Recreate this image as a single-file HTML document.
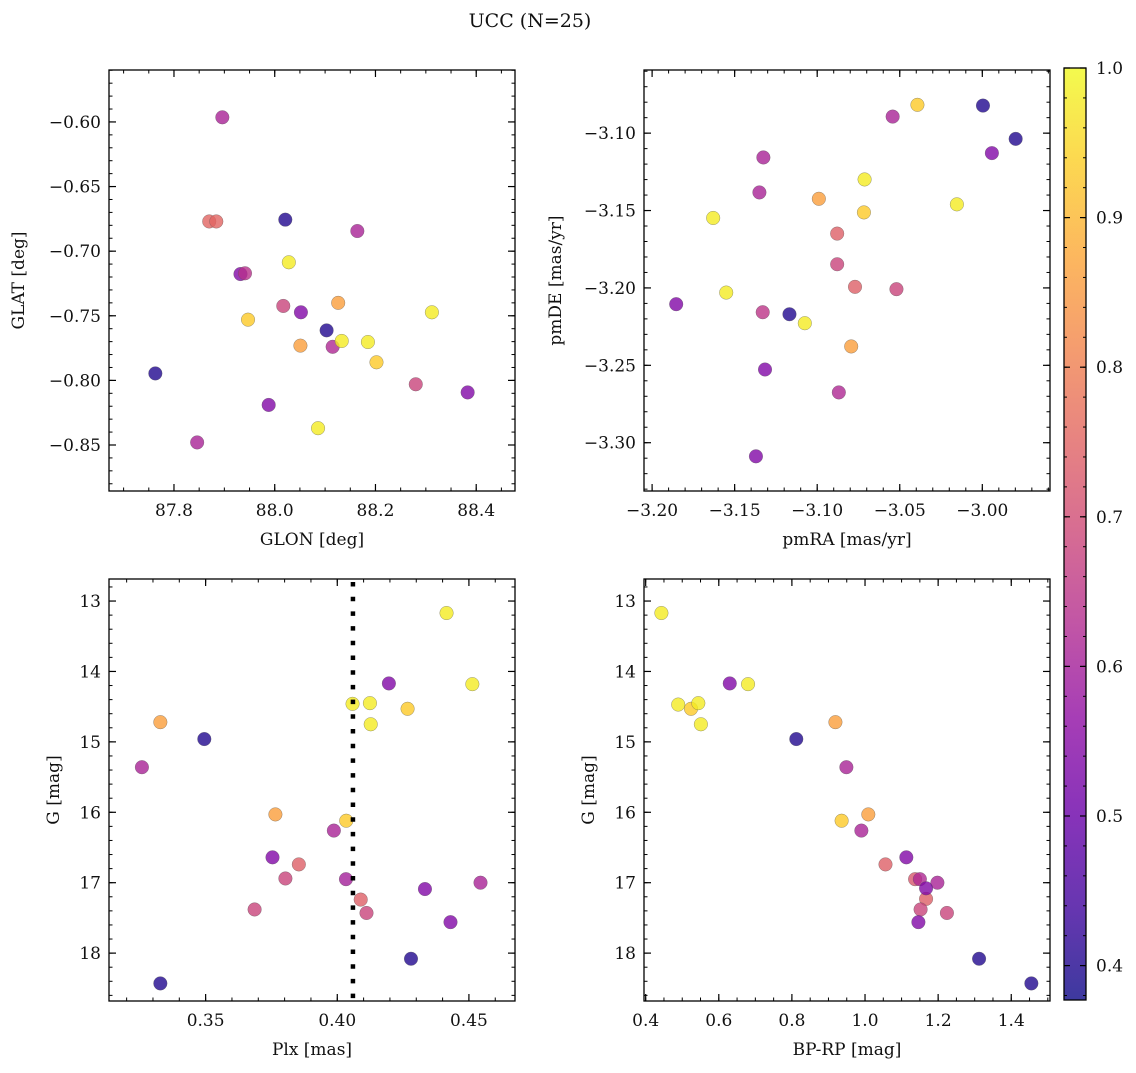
<!DOCTYPE html>
<html><head><meta charset="utf-8"><style>
html,body{margin:0;padding:0;background:#fff;}
svg text{font-family:"DejaVu Serif","Liberation Serif",serif;fill:#111;}
</style></head><body>
<svg id="fig" width="1136" height="1068" viewBox="0 0 1136 1068" xmlns="http://www.w3.org/2000/svg">
<text x="530" y="27" font-size="19" text-anchor="middle">UCC (N=25)</text>
</svg>
<script>
// ---- data (per panel) ----
const glon = [87.896,87.870,87.884,88.021,88.164,88.028,87.932,87.941,88.017,88.052,88.126,87.947,88.312,88.103,88.051,88.115,88.133,88.185,88.202,87.763,88.280,88.383,87.988,88.086,87.846];
const glat = [-0.5964,-0.677,-0.677,-0.6756,-0.6844,-0.7086,-0.7177,-0.7171,-0.7424,-0.7473,-0.740,-0.753,-0.7473,-0.7613,-0.7731,-0.774,-0.7695,-0.7703,-0.786,-0.7946,-0.803,-0.8093,-0.819,-0.837,-0.848];
const prob1 = [0.61,0.75,0.75,0.40,0.61,0.98,0.54,0.64,0.68,0.54,0.86,0.93,0.98,0.40,0.86,0.62,0.98,0.98,0.93,0.40,0.68,0.54,0.54,0.98,0.61];

const pmra = [-3.0393,-2.9996,-3.0543,-2.9798,-2.9942,-3.1326,-3.0713,-3.135,-3.099,-3.163,-3.0717,-3.0154,-3.0879,-3.0879,-3.0771,-3.052,-3.1854,-3.1551,-3.133,-3.1168,-3.1075,-3.0794,-3.1316,-3.0869,-3.1371];
const pmde = [-3.0817,-3.0822,-3.0893,-3.1037,-3.1129,-3.1157,-3.1299,-3.1383,-3.1424,-3.1548,-3.1512,-3.146,-3.1649,-3.1847,-3.1993,-3.2008,-3.2105,-3.203,-3.2157,-3.217,-3.2228,-3.2378,-3.2527,-3.2675,-3.3088];
const prob2 = [0.93,0.40,0.61,0.40,0.54,0.61,0.98,0.61,0.86,0.98,0.93,0.98,0.74,0.68,0.74,0.68,0.54,0.98,0.65,0.40,0.98,0.86,0.54,0.62,0.54];

const plx = [0.4415,0.4196,0.4513,0.4058,0.4124,0.4267,0.4127,0.3328,0.3495,0.3258,0.3765,0.4034,0.3987,0.3754,0.3854,0.3803,0.4033,0.4089,0.4544,0.4333,0.3686,0.4111,0.4430,0.4280,0.3328];
const gmag = [13.17,14.17,14.18,14.46,14.45,14.53,14.75,14.72,14.96,15.36,16.03,16.12,16.26,16.64,16.74,16.94,16.95,17.24,17.00,17.09,17.38,17.43,17.56,18.08,18.43];
const prob3 = [0.98,0.54,0.98,0.98,0.98,0.93,0.98,0.86,0.40,0.61,0.86,0.93,0.61,0.54,0.74,0.68,0.60,0.74,0.61,0.54,0.68,0.68,0.54,0.40,0.40];
const plxLine = [0.40595];

const bprp = [0.443,0.630,0.680,0.489,0.524,0.544,0.551,0.919,0.812,0.949,1.009,0.936,0.990,1.113,1.056,1.137,1.150,1.167,1.198,1.167,1.152,1.224,1.146,1.312,1.455];
const gmag4 = [13.17,14.17,14.18,14.47,14.53,14.45,14.75,14.72,14.96,15.36,16.03,16.12,16.26,16.64,16.74,16.95,16.95,17.23,17.00,17.08,17.38,17.43,17.56,18.08,18.43];
const prob4 = [0.98,0.54,0.98,0.98,0.93,0.98,0.98,0.86,0.40,0.61,0.86,0.93,0.61,0.54,0.74,0.72,0.62,0.74,0.61,0.54,0.68,0.68,0.54,0.40,0.40];

const ticks1x = [87.8,88.0,88.2,88.4], ticks1y = [-0.60,-0.65,-0.70,-0.75,-0.80,-0.85];
const ticks2x = [-3.20,-3.15,-3.10,-3.05,-3.00], ticks2y = [-3.10,-3.15,-3.20,-3.25,-3.30];
const ticks3x = [0.35,0.40,0.45], ticksG = [13,14,15,16,17,18];
const ticks4x = [0.4,0.6,0.8,1.0,1.2,1.4];
const cbTicks = [0.4,0.5,0.6,0.7,0.8,0.9,1.0];
const cbRange = [0.377,1.0];

// ---- helpers ----
const NS = "http://www.w3.org/2000/svg";
const svg = document.getElementById('fig');
function mk(tag, attrs, parent){const e=document.createElementNS(NS,tag);for(const k in attrs)e.setAttribute(k,attrs[k]);(parent||svg).appendChild(e);return e;}
const plasma = ["#0d0887","#41049d","#6a00a8","#8f0da4","#b12a90","#cc4778","#e16462","#f2844b","#fca636","#fcce25","#f0f921"];
function hex(c){return [1,3,5].map(i=>parseInt(c.substr(i,2),16));}
function cmap(p){let t=(p-cbRange[0])/(cbRange[1]-cbRange[0]);t=Math.max(0,Math.min(1,t));const f=t*10,i=Math.min(9,Math.floor(f)),r=f-i;const a=hex(plasma[i]),b=hex(plasma[i+1]);return 'rgb('+a.map((v,k)=>Math.round(v+(b[k]-v)*r)).join(',')+')';}
function fmt(v,d){const s=Math.abs(v).toFixed(d);return (v<0?'\u2212':'')+s;}
const FS=17;

function panel(name, box, xr, yr, xt, yt, xminor, yminor, xd, yd, xlabel, ylabel, ylabOff, xs, ys, ps, invertY){
  const [L,T,R,B]=box;
  const X=v=>L+(v-xr[0])/(xr[1]-xr[0])*(R-L);
  const Y=invertY? v=>T+(v-yr[0])/(yr[1]-yr[0])*(B-T) : v=>B-(v-yr[0])/(yr[1]-yr[0])*(B-T);
  const g=mk('g',{});
  
  
  for(let v=Math.ceil(xr[0]/xminor-1e-6)*xminor; v<=xr[1]+1e-9; v+=xminor){const x=X(v);mk('line',{x1:x,x2:x,y1:B,y2:B-3.5,stroke:'#000','stroke-width':1},g);mk('line',{x1:x,x2:x,y1:T,y2:T+3.5,stroke:'#000','stroke-width':1},g);}
  const y0=Math.min(yr[0],yr[1]), y1=Math.max(yr[0],yr[1]);
  for(let v=Math.ceil(y0/yminor-1e-6)*yminor; v<=y1+1e-9; v+=yminor){const y=Y(v);mk('line',{x1:L,x2:L+3.5,y1:y,y2:y,stroke:'#000','stroke-width':1},g);mk('line',{x1:R,x2:R-3.5,y1:y,y2:y,stroke:'#000','stroke-width':1},g);}
  xt.forEach(v=>{const x=X(v);mk('line',{x1:x,x2:x,y1:B,y2:B-7,stroke:'#000','stroke-width':1.2},g);mk('line',{x1:x,x2:x,y1:T,y2:T+7,stroke:'#000','stroke-width':1.2},g);
    const t=mk('text',{x:x,y:B+25,'font-size':FS,'text-anchor':'middle'},g);t.textContent=fmt(v,xd);
    
    });
  yt.forEach(v=>{const y=Y(v);mk('line',{x1:L,x2:L+7,y1:y,y2:y,stroke:'#000','stroke-width':1.2},g);mk('line',{x1:R,x2:R-7,y1:y,y2:y,stroke:'#000','stroke-width':1.2},g);
    const t=mk('text',{x:L-8,y:y+6,'font-size':FS,'text-anchor':'end'},g);t.textContent=fmt(v,yd);
    
    });
  const xl=mk('text',{x:(L+R)/2,y:B+54,'font-size':FS,'text-anchor':'middle'},g);xl.textContent=xlabel;
  
  
  const yl=mk('text',{x:0,y:0,'font-size':FS,'text-anchor':'middle',transform:`translate(${L-ylabOff},${(T+B)/2}) rotate(-90)`},g);yl.textContent=ylabel;
  
  
  xs.forEach((v,i)=>{const c=mk('circle',{cx:X(v),cy:Y(ys[i]),r:6.8,fill:cmap(ps[i]),'fill-opacity':0.8,stroke:'#555','stroke-opacity':0.6,'stroke-width':0.5},g);
    
    });
  mk('rect',{x:L,y:T,width:R-L,height:B-T,fill:'none',stroke:'#000','stroke-width':1.3},g);
  return {X,Y,g};
}
panel('glon-glat-panel',[109,70,515,491],[87.671,88.477],[-0.8856,-0.5598],ticks1x,ticks1y,0.05,0.01,1,2,'GLON [deg]','GLAT [deg]',85,glon,glat,prob1,false);
panel('pm-panel',[644,70,1050,491],[-3.2049,-2.9590],[-3.3312,-3.0592],ticks2x,ticks2y,0.01,0.01,2,2,'pmRA [mas/yr]','pmDE [mas/yr]',83,pmra,pmde,prob2,false);
const p3=panel('plx-g-panel',[109,579,515,1001],[0.3133,0.4675],[12.687,18.68],ticks3x,ticksG,0.01,0.2,2,0,'Plx [mas]','G [mag]',50,plx,gmag,prob3,true);
plxLine.forEach(v=>{const l=mk('line',{x1:p3.X(v),x2:p3.X(v),y1:582,y2:1001,stroke:'#000','stroke-width':4.5,'stroke-dasharray':'4.5 10.2'});
  
  });
panel('cmd-panel',[644,579,1050,1001],[0.3954,1.506],[12.687,18.68],ticks4x,ticksG,0.05,0.2,1,0,'BP-RP [mag]','G [mag]',50,bprp,gmag4,prob4,true);

// colorbar
const cb=mk('g',{});


const CL=1064,CR=1086,CT=68,CB=1000;
const defs=mk('defs',{});
const grad=mk('linearGradient',{id:'pl',x1:0,y1:1,x2:0,y2:0},defs);
plasma.forEach((c,i)=>mk('stop',{offset:(i/10),'stop-color':c,'stop-opacity':0.8},grad));
mk('rect',{x:CL,y:CT,width:CR-CL,height:CB-CT,fill:'url(#pl)'},cb);
const CY=v=>CB-(v-cbRange[0])/(cbRange[1]-cbRange[0])*(CB-CT);
for(let v=0.38;v<=1.0001;v+=0.02){const y=CY(v);mk('line',{x1:CR,x2:CR-3,y1:y,y2:y,stroke:'#000','stroke-width':1},cb);mk('line',{x1:CL,x2:CL+3,y1:y,y2:y,stroke:'#000','stroke-width':1},cb);}
cbTicks.forEach(v=>{const y=CY(v);mk('line',{x1:CR,x2:CR-6,y1:y,y2:y,stroke:'#000','stroke-width':1.2},cb);mk('line',{x1:CL,x2:CL+6,y1:y,y2:y,stroke:'#000','stroke-width':1.2},cb);
  const t=mk('text',{x:CR+10,y:y+6,'font-size':FS},cb);t.textContent=v.toFixed(1);
  
  });
mk('rect',{x:CL,y:CT,width:CR-CL,height:CB-CT,fill:'none',stroke:'#000','stroke-width':1.3},cb);
</script>
</body></html>
